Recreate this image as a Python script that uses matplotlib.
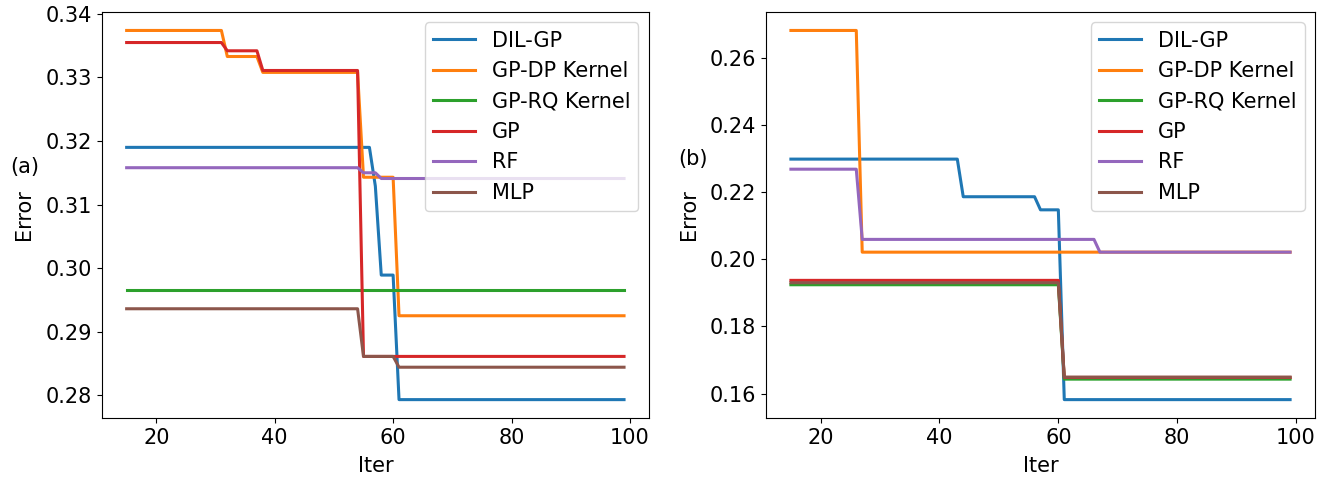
import numpy as np
import matplotlib
matplotlib.use("Agg")
import matplotlib.pyplot as plt

# iterations
iters = np.arange(15, 100)

labels = ['DIL-GP', 'GP-DP Kernel', 'GP-RQ Kernel', 'GP', 'RF', 'MLP']

# (a) step levels: list of (first iter, value)
a_dil = [(15, 0.3190), (57, 0.3129), (58, 0.2989), (61, 0.2793)]
a_dp = [(15, 0.3374), (32, 0.3333), (38, 0.3308), (55, 0.3143), (61, 0.2925)]
a_rq = [(15, 0.2966)]
a_gp = [(15, 0.3355), (32, 0.3342), (38, 0.3311), (55, 0.2861)]
a_rf = [(15, 0.3158), (55, 0.3150), (58, 0.3141)]
a_mlp = [(15, 0.2936), (55, 0.2861), (61, 0.2844)]

# (b)
b_dil = [(15, 0.2298), (44, 0.2186), (57, 0.2147), (61, 0.1582)]
b_dp = [(15, 0.2681), (27, 0.2021)]
b_rq = [(15, 0.1924), (61, 0.1643)]
b_gp = [(15, 0.1937), (61, 0.1648)]
b_rf = [(15, 0.2268), (27, 0.2059), (67, 0.2021)]
b_mlp = [(15, 0.1930), (61, 0.1649)]


def steps(levels):
    # best-so-far error per iteration
    y = np.zeros(len(iters))
    for start, val in levels:
        y[iters >= start] = val
    return y


plt.rcParams['font.size'] = 15

fig = plt.figure(figsize=(13.27, 4.8), dpi=100)
ax1 = fig.add_axes([0.0767, 0.129, 0.4123, 0.846])
ax2 = fig.add_axes([0.5772, 0.129, 0.4138, 0.846])

for ax, series in [(ax1, [a_dil, a_dp, a_rq, a_gp, a_rf, a_mlp]),
                   (ax2, [b_dil, b_dp, b_rq, b_gp, b_rf, b_mlp])]:
    for lev, lab in zip(series, labels):
        ax.plot(iters, steps(lev), lw=2.2, label=lab)
    ax.set_xlabel('Iter', labelpad=6)
    ax.set_ylabel('Error', labelpad=8)
    ax.legend(loc='upper right')

ax1.set_yticks([0.28, 0.29, 0.30, 0.31, 0.32, 0.33, 0.34])
ax2.set_yticks([0.16, 0.18, 0.20, 0.22, 0.24, 0.26])

fig.text(0.019, 0.652, '(a)', fontsize=15, va='center', ha='center')
fig.text(0.522, 0.668, '(b)', fontsize=15, va='center', ha='center')

fig.savefig('out.png', dpi=100)
